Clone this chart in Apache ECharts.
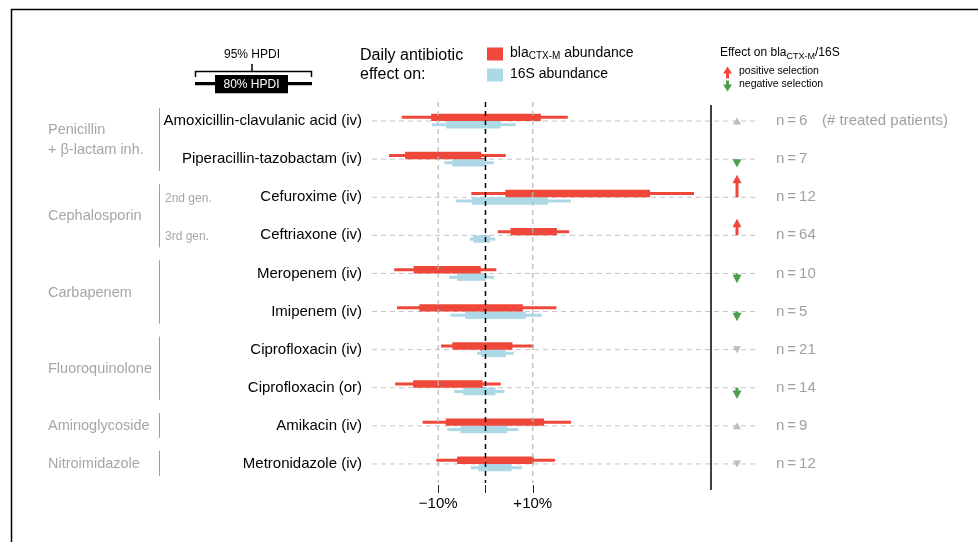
<!DOCTYPE html>
<html>
<head>
<meta charset="utf-8">
<title>Daily antibiotic effect</title>
<script src="https://cdn.jsdelivr.net/npm/echarts@6.0.0/dist/echarts.min.js"></script>
<style>
  html, body { margin: 0; padding: 0; background: #fff; }
  #chart { width: 978px; height: 542px; }
</style>
</head>
<body>
<div id="chart"></div>
<script>
// rows, top to bottom
var drugs = ['Amoxicillin-clavulanic acid (iv)', 'Piperacillin-tazobactam (iv)', 'Cefuroxime (iv)', 'Ceftriaxone (iv)',
  'Meropenem (iv)', 'Imipenem (iv)', 'Ciprofloxacin (iv)', 'Ciprofloxacin (or)', 'Amikacin (iv)', 'Metronidazole (iv)'];
var drugClass = ['Penicillin\n+ β-lactam inh.', 'Penicillin\n+ β-lactam inh.', 'Cephalosporin', 'Cephalosporin',
  'Carbapenem', 'Carbapenem', 'Fluoroquinolone', 'Fluoroquinolone', 'Aminoglycoside', 'Nitroimidazole'];
var subClass = ['', '', '2nd gen.', '3rd gen.', '', '', '', '', '', ''];
var nPatients = [6, 7, 12, 64, 10, 5, 21, 14, 9, 12];

// daily effect (%), 95% and 80% HPDI bounds
var blaLo95 = [-17.7, -20.4, -3.0, 2.6, -19.3, -18.7, -9.4, -19.1, -13.3, -10.4];
var blaLo80 = [-11.5, -17.0, 4.2, 5.3, -15.2, -14.0, -7.0, -15.3, -8.4, -6.0];
var blaHi80 = [11.7, -0.9, 34.8, 15.1, -1.0, 7.9, 5.7, -0.6, 12.4, 10.2];
var blaHi95 = [17.4, 4.3, 44.1, 17.7, 2.3, 15.0, 10.2, 3.2, 18.1, 14.7];
var s16Lo95 = [-11.3, -8.7, -6.2, -3.3, -7.7, -7.4, -1.8, -6.6, -8.1, -3.1];
var s16Lo80 = [-8.3, -7.0, -2.9, -2.6, -6.0, -4.3, -0.9, -4.7, -5.3, -1.5];
var s16Hi80 = [3.2, -0.2, 13.2, 1.0, 0.1, 8.5, 4.3, 2.1, 4.6, 5.5];
var s16Hi95 = [6.4, 1.8, 18.1, 2.1, 1.8, 11.9, 6.0, 4.0, 7.0, 7.7];

// effect on bla/16S (% points) and whether it is credible
var ratioEffect = [2, -5.5, 15, 11, -6.5, -6.5, -2, -7.5, 2, -1];
var ratioCredible = [0, 1, 1, 1, 1, 1, 0, 1, 0, 0];

var refValues = [-10, 0, 10];
var tickLabels = { '-10': '\u221210%', '10': '+10%' };

var FONT = '"Liberation Sans", Arial, Helvetica, sans-serif';
var RED = '#F0473B', BLUE = '#ADD8E6', GREEN = '#4E9E4E', GREY = '#BDBDBD';

function arrowPoints(x, y, dir, len, head) {
  head = Math.min(head, len);
  var neck = y + dir * (len - head);
  return [[x - 1.5, y], [x - 1.5, neck], [x - 4.5, neck], [x, y + dir * len],
    [x + 4.5, neck], [x + 1.5, neck], [x + 1.5, y]];
}

function hpdiItem(shift) {
  return function (params, api) {
    var row = api.value(0);
    var a = api.coord([api.value(1), row]);
    var b = api.coord([api.value(4), row]);
    var c = api.coord([api.value(2), row]);
    var d = api.coord([api.value(3), row]);
    var y = a[1] + shift;
    var color = api.visual('color');
    return {
      type: 'group',
      children: [
        { type: 'rect', shape: { x: a[0], y: y - 1.5, width: b[0] - a[0], height: 3 }, style: { fill: color } },
        { type: 'rect', shape: { x: c[0], y: y - 3.7, width: d[0] - c[0], height: 7.4 }, style: { fill: color } }
      ]
    };
  };
}

var chart = echarts.init(document.getElementById('chart'));

var option = {
  backgroundColor: '#fff',
  animation: false,
  textStyle: { fontFamily: FONT },
  legend: {
    orient: 'vertical', left: 487, top: 46.5, padding: 0, itemWidth: 16, itemHeight: 13, itemGap: 6,
    icon: 'rect', selectedMode: false,
    data: ['bla', '16S'],
    formatter: function (name) {
      return name === 'bla' ? '{t|bla}{s|CTX-M}{t| abundance}' : '{t|16S abundance}';
    },
    textStyle: {
      fontFamily: FONT, fontSize: 14, color: '#000', padding: [0, 0, 0, 2],
      rich: {
        t: { fontFamily: FONT, fontSize: 14, color: '#000', verticalAlign: 'bottom', padding: [0, 0, 1, 0] },
        s: { fontFamily: FONT, fontSize: 10, color: '#000', verticalAlign: 'bottom' }
      }
    }
  },
  grid: { left: 372, right: 223, top: 102, bottom: 59, outerBoundsMode: 'none' },
  xAxis: {
    type: 'value', min: -24, max: 57,
    offset: 2,
    axisLine: { show: false },
    splitLine: { show: false },
    axisTick: { show: true, customValues: refValues, length: 8, lineStyle: { color: '#222', width: 1 } },
    axisLabel: {
      customValues: [-10, 10], margin: 11, color: '#000', fontSize: 15, fontFamily: FONT,
      formatter: function (v) { return tickLabels[String(v)] || ''; }
    }
  },
  yAxis: [{
    type: 'category', data: drugs, inverse: true,
    axisLine: { show: false },
    axisTick: { show: true, alignWithLabel: true, length: 5, lineStyle: { color: '#000', width: 1.5 } },
    axisLabel: { margin: 10, color: '#000', fontSize: 15, fontFamily: FONT },
    splitLine: { show: false }
  }, {
    type: 'category', data: drugs, inverse: true, position: 'right',
    axisLine: { show: false }, axisTick: { show: false }, splitLine: { show: false },
    axisLabel: {
      margin: 21, color: '#A0A0A0', fontSize: 15, fontFamily: FONT, align: 'left',
      formatter: function (v, i) {
        var s = '{n|n\u2009=\u2009' + nPatients[i] + '}';
        return i === 0 ? s + '{note|(# treated patients)}' : s;
      },
      rich: {
        n: { width: 46, color: '#A0A0A0', fontSize: 15, fontFamily: FONT },
        note: { color: '#A0A0A0', fontSize: 15, fontFamily: FONT }
      }
    }
  }],
  series: [
    {
      // dashed row guides
      type: 'custom', name: 'guides', silent: true, z: 1,
      data: drugs.map(function (d, i) { return [0, i]; }),
      encode: { x: 0, y: 1 },
      renderItem: function (params, api) {
        var cs = params.coordSys;
        var y = api.coord([0, api.value(1)])[1];
        return {
          type: 'line', shape: { x1: cs.x, y1: y, x2: cs.x + cs.width, y2: y },
          style: { stroke: '#C4C4C4', lineWidth: 1, lineDash: [5, 4] }
        };
      }
    },
    {
      type: 'custom', name: '16S', z: 2,
      itemStyle: { color: BLUE },
      data: drugs.map(function (d, i) { return [i, s16Lo95[i], s16Lo80[i], s16Hi80[i], s16Hi95[i]]; }),
      encode: { y: 0, x: [1, 2, 3, 4] },
      renderItem: hpdiItem(3.7)
    },
    {
      type: 'custom', name: 'bla', z: 2,
      itemStyle: { color: RED },
      data: drugs.map(function (d, i) { return [i, blaLo95[i], blaLo80[i], blaHi80[i], blaHi95[i]]; }),
      encode: { y: 0, x: [1, 2, 3, 4] },
      renderItem: hpdiItem(-3.7)
    },
    {
      // reference lines at -10%, 0, +10%
      type: 'custom', name: 'ref', silent: true, z: 3,
      data: refValues.map(function (v) { return [v, 0]; }),
      encode: { x: 0, y: 1 },
      renderItem: function (params, api) {
        var cs = params.coordSys;
        var v = api.value(0);
        var x = api.coord([v, 0])[0];
        return {
          type: 'line', shape: { x1: x, y1: cs.y, x2: x, y2: cs.y + cs.height },
          style: { stroke: v === 0 ? '#000' : '#B8B8B8', lineWidth: v === 0 ? 1.5 : 1.2, lineDash: [5, 4] }
        };
      }
    },
    {
      // selection effect on bla/16S
      type: 'custom', name: 'effect', silent: true, z: 4,
      data: drugs.map(function (d, i) { return [i, ratioEffect[i], ratioCredible[i]]; }),
      encode: { y: 0, x: 1 },
      renderItem: function (params, api) {
        var cs = params.coordSys;
        var y = api.coord([0, api.value(0)])[1];
        var x = cs.x + cs.width - 18;
        var eff = api.value(1);
        var dir = eff >= 0 ? -1 : 1;
        if (!api.value(2)) {
          return {
            type: 'polygon',
            shape: { points: [[x, y + dir * 3.5], [x - 4, y - dir * 3.5], [x + 4, y - dir * 3.5]] },
            style: { fill: GREY }
          };
        }
        var len = Math.max(8, Math.abs(eff) * 1.5);
        return {
          type: 'polygon',
          shape: { points: arrowPoints(x, y, dir, len, 8.5) },
          style: { fill: eff >= 0 ? RED : GREEN }
        };
      }
    }
  ]
};

chart.setOption(option);

// left-hand class labels, grouped from drugClass
var groups = [];
drugClass.forEach(function (c, i) {
  var g = groups[groups.length - 1];
  if (!g || g.name !== c) groups.push({ name: c, first: i, last: i });
  else g.last = i;
});
function rowY(i) { return chart.convertToPixel({ yAxisIndex: 0 }, drugs[i]); }

var els = [];
// frame
els.push({ type: 'polyline', shape: { points: [[978, 9.5], [11.5, 9.5], [11.5, 542]] },
  style: { stroke: '#000', lineWidth: 1.5, fill: null } });
// separator before selection column
els.push({ type: 'line', shape: { x1: 711, y1: 105, x2: 711, y2: 490 }, style: { stroke: '#000', lineWidth: 1.5 }, z: 10 });

groups.forEach(function (g) {
  var y1 = rowY(g.first), y2 = rowY(g.last);
  els.push({ type: 'text', x: 48, y: (y1 + y2) / 2,
    style: { text: g.name, fill: '#A6A6A6', fontSize: 14.5, fontFamily: FONT, lineHeight: 20, align: 'left', verticalAlign: 'middle' } });
  els.push({ type: 'line', shape: { x1: 159.5, y1: y1 - 13, x2: 159.5, y2: y2 + 12 }, style: { stroke: '#9C9C9C', lineWidth: 1 } });
});
subClass.forEach(function (s, i) {
  if (!s) return;
  els.push({ type: 'text', x: 165, y: rowY(i) + 1,
    style: { text: s, fill: '#A6A6A6', fontSize: 12, fontFamily: FONT, align: 'left', verticalAlign: 'middle' } });
});

// HPDI key
els.push({ type: 'text', x: 252, y: 55, style: { text: '95% HPDI', fill: '#000', fontSize: 12, fontFamily: FONT, align: 'center', verticalAlign: 'middle' } });
els.push({ type: 'polyline', shape: { points: [[195.5, 77], [195.5, 71.5], [311.5, 71.5], [311.5, 77]] }, style: { stroke: '#000', lineWidth: 1.5, fill: null } });
els.push({ type: 'line', shape: { x1: 252, y1: 64, x2: 252, y2: 71.5 }, style: { stroke: '#000', lineWidth: 1.5 } });
els.push({ type: 'rect', shape: { x: 195, y: 82, width: 117, height: 3.3 }, style: { fill: '#000' } });
els.push({ type: 'rect', shape: { x: 215, y: 75, width: 73, height: 18.3 }, style: { fill: '#000' } });
els.push({ type: 'text', x: 251.5, y: 84.5, style: { text: '80% HPDI', fill: '#fff', fontSize: 12, fontFamily: FONT, align: 'center', verticalAlign: 'middle' } });

// legend title
els.push({ type: 'text', x: 360, y: 65, style: { text: 'Daily antibiotic\neffect on:', fill: '#000', fontSize: 16, fontFamily: FONT, lineHeight: 19, align: 'left', verticalAlign: 'middle' } });

// selection legend
els.push({ type: 'text', x: 720, y: 54, style: {
  text: '{t|Effect on bla}{s|CTX-M}{t|/16S}', fill: '#000', fontFamily: FONT, fontSize: 12, align: 'left', verticalAlign: 'middle',
  rich: {
    t: { fontFamily: FONT, fontSize: 12, fill: '#000', verticalAlign: 'bottom', padding: [0, 0, 2, 0] },
    s: { fontFamily: FONT, fontSize: 9, fill: '#000', verticalAlign: 'bottom' }
  } } });
els.push({ type: 'polygon', shape: { points: arrowPoints(727.5, 78.5, -1, 12, 7) }, style: { fill: RED } });
els.push({ type: 'polygon', shape: { points: arrowPoints(727.5, 80.5, 1, 11, 7) }, style: { fill: GREEN } });
els.push({ type: 'text', x: 739, y: 71.5, style: { text: 'positive selection', fill: '#000', fontSize: 10.5, fontFamily: FONT, align: 'left', verticalAlign: 'middle' } });
els.push({ type: 'text', x: 739, y: 84, style: { text: 'negative selection', fill: '#000', fontSize: 10.5, fontFamily: FONT, align: 'left', verticalAlign: 'middle' } });

chart.setOption({ graphic: { elements: els } });
</script>
</body>
</html>
